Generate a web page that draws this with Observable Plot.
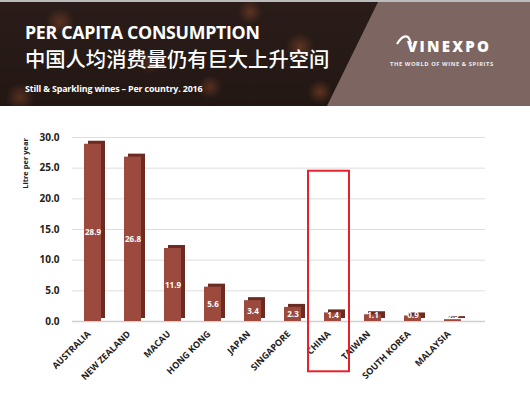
<!DOCTYPE html>
<html>
<head>
<meta charset="utf-8">
<script src="https://cdn.jsdelivr.net/npm/d3@7"></script>
<script src="https://cdn.jsdelivr.net/npm/@observablehq/plot@0.6"></script>
<style>
  html, body { margin: 0; padding: 0; background: #fff; }
  body { width: 530px; height: 397px; overflow: hidden; font-family: "Open Sans", "Noto Sans", sans-serif; }
  #header { position: relative; width: 530px; height: 106px; overflow: hidden;
    background:
      radial-gradient(circle at 60px 20px, rgba(190,90,50,0.35) 0, rgba(190,90,50,0) 14px),
      radial-gradient(circle at 250px 10px, rgba(190,90,50,0.35) 0, rgba(190,90,50,0) 12px),
      radial-gradient(circle at 300px 45px, rgba(200,100,55,0.35) 0, rgba(200,100,55,0) 14px),
      radial-gradient(circle at 210px 85px, rgba(200,100,55,0.30) 0, rgba(200,100,55,0) 12px),
      radial-gradient(circle at 150px 60px, rgba(200,100,55,0.25) 0, rgba(200,100,55,0) 12px),
      radial-gradient(circle at 320px 90px, rgba(200,100,55,0.35) 0, rgba(200,100,55,0) 12px),
      radial-gradient(circle at 20px 95px, rgba(200,100,55,0.30) 0, rgba(200,100,55,0) 14px),
      linear-gradient(#2a1d19, #231714);
    border-top: 2px solid #bbb; box-sizing: border-box; }
  #panel { position: absolute; left: 0; top: 0; width: 530px; height: 106px; background: #7d6662;
    clip-path: polygon(378px 0, 530px 0, 530px 106px, 326px 106px); }
  .t1 { position: absolute; left: 25px; top: 22px; color: #fff; font-weight: 700; font-size: 17.8px; letter-spacing: -0.3px; white-space: nowrap; line-height: 1; }
  .t2 { position: absolute; left: 25px; top: 45px; color: #fff; font-family: "Noto Sans CJK SC", sans-serif; font-weight: 500; font-size: 20.3px; white-space: nowrap; line-height: 1.1; }
  .t3 { position: absolute; left: 25px; top: 83px; color: #fff; font-weight: 700; font-size: 8.9px; letter-spacing: -0.15px; white-space: nowrap; line-height: 1; }
  .logo { position: absolute; left: 407px; top: 37px; color: #fff; font-weight: 800; font-size: 15px; letter-spacing: 2.2px; line-height: 1; }
  .logo2 { position: absolute; left: 390px; top: 60px; color: #eee; font-weight: 700; font-size: 5.8px; letter-spacing: 0.55px; white-space: nowrap; line-height: 1; }
  #chart { position: absolute; left: 0; top: 106px; }
</style>
</head>
<body>
<div id="header">
  <div id="panel"></div>
  <div class="t1">PER CAPITA CONSUMPTION</div>
  <div class="t2">中国人均消费量仍有巨大上升空间</div>
  <div class="t3">Still &amp; Sparkling wines – Per country. 2016</div>
  <svg style="position:absolute;left:396px;top:30px" width="20" height="14"><path d="M1,12 Q7,2 12,5 Q14,7 15,12" stroke="#fff" stroke-width="2.2" fill="none"/></svg>
  <div class="logo">VINEXPO</div>
  <div class="logo2">THE WORLD OF WINE &amp; SPIRITS</div>
</div>
<div id="chart"></div>
<script>
const countries = ["AUSTRALIA", "NEW ZEALAND", "MACAU", "HONG KONG", "JAPAN", "SINGAPORE", "CHINA", "TAIWAN", "SOUTH KOREA", "MALAYSIA"];
const values = [28.9, 26.8, 11.9, 5.6, 3.4, 2.3, 1.4, 1.1, 0.9, 0.3];
const yTicks = [0, 5, 10, 15, 20, 25, 30];
const highlight = ["CHINA"];
const yLabel = "Litre per year";

const data = countries.map((c, i) => ({country: c, value: values[i]}));

const chart = Plot.plot({
  width: 530,
  height: 291,
  marginTop: 31,
  marginBottom: 76,
  marginLeft: 72,
  marginRight: 45,
  style: {fontFamily: "Open Sans", background: "transparent", overflow: "visible"},
  x: {domain: countries, range: [72, 472], paddingInner: 0.58, paddingOuter: 0.29, label: null},
  y: {domain: [0, 30], label: null},
  marks: [
    Plot.ruleY(yTicks.slice(1), {stroke: "#dedede", strokeWidth: 1}),
    Plot.ruleY([0], {stroke: "#d0d0d0", strokeWidth: 1.5}),
    Plot.barY(data, {x: "country", y: "value", fill: "#6b2b22", dx: 4, dy: -3}),
    Plot.barY(data, {x: "country", y: "value", fill: "#9c4a3e"}),
    Plot.text(data, {x: "country", y: d => Math.max(d.value / 2, 1), text: d => d.value.toFixed(1),
      fill: "white", fontWeight: "bold", fontSize: 8}),
    Plot.axisY({ticks: yTicks, tickFormat: d3.format(".1f"), tickSize: 0, tickPadding: 13,
      fontSize: 10, fontWeight: "bold", label: null, fill: "#222"}),
    Plot.axisX({tickRotate: -45, tickSize: 0, tickPadding: 11, dx: -4, fontSize: 9, fontWeight: "bold",
      label: null, fill: "#222"}),
    Plot.text([yLabel], {frameAnchor: "top-left", textAnchor: "middle", dx: -50, dy: 26, rotate: -90,
      fontSize: 7.5, fontWeight: "bold", fill: "#222"}),
    Plot.barY(highlight, {x: d => d, y1: -8.2, y2: 24.5, fill: "none", stroke: "#e8202a",
      strokeWidth: 2, insetLeft: -16, insetRight: -8})
  ]
});
document.getElementById("chart").appendChild(chart);
</script>
</body>
</html>
